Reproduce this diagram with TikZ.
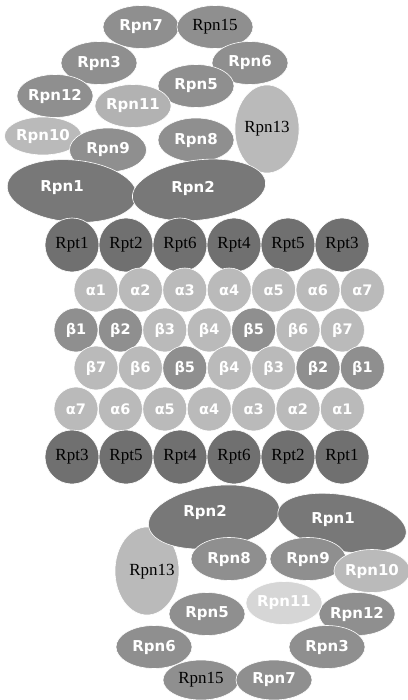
\documentclass[tikz,border=0pt]{standalone}
\usepackage{fontspec}
\setmainfont{Liberation Serif}
\setsansfont{DejaVu Sans}
\usetikzlibrary{shapes.geometric}

\definecolor{rptgray}{gray}{0.44}
\definecolor{basegray}{gray}{0.47}
\definecolor{midgray}{gray}{0.56}
\definecolor{palegray}{gray}{0.73}
\definecolor{faintgray}{gray}{0.84}

\tikzset{
    sub/.style={ellipse, inner sep=0pt, draw=white, line width=0.6pt,
        minimum width=76pt, minimum height=43pt, fill=midgray,
        text=white, font=\sffamily\bfseries\fontsize{15}{18}\selectfont},
    subserif/.style={sub, text=black, font=\rmfamily\fontsize{17}{20}\selectfont},
    lidtext/.style={inner sep=0pt, text=white, font=\sffamily\bfseries\fontsize{15}{18}\selectfont},
    ring/.style={circle, inner sep=0pt, draw=white, line width=0.6pt,
        minimum size=44pt, fill=palegray,
        text=white, font=\sffamily\bfseries\fontsize{14.5}{18}\selectfont},
    atpase/.style={circle, inner sep=0pt, draw=white, line width=0.6pt,
        minimum size=54pt, fill=rptgray,
        text=black, font=\rmfamily\fontsize{17}{20}\selectfont}
}

\begin{document}
\begin{tikzpicture}[x=1pt, y=-1pt]
    \useasboundingbox (0,0) rectangle (407,700);
    % upper lid
    \node [subserif, fill=palegray, minimum width=63pt, minimum height=88pt] (top13) at (267,129) {Rpn13};
    \node [sub] (top7) at (141,27) {Rpn7};
    \node [subserif] (top15) at (215,27) {Rpn15};
    \node [sub] (top6) at (250,63) {Rpn6};
    \node [sub] (top3) at (99,63) {Rpn3};
    \node [sub] (top12) at (55,96) {Rpn12};
    \node [sub] (top5) at (196,86) {Rpn5};
    \node [sub, fill=gray!60] (top11) at (133,106) {Rpn11};
    \node [sub, fill=palegray, minimum width=77pt, minimum height=38pt] (top10) at (43,136) {Rpn10};
    \node [sub, minimum width=77pt, minimum height=44pt] (top9) at (108,150) {Rpn9};
    \node [sub, minimum height=44pt] (top8) at (196,140) {Rpn8};
    \node [sub, fill=basegray, minimum width=130pt, minimum height=62pt, rotate=-5] (top1) at (72,191) {};
    \node [sub, fill=basegray, minimum width=134pt, minimum height=60pt, rotate=7] (top2) at (199,190) {};
    \node [lidtext] (toplab1) at (62,188) {Rpn1};
    \node [lidtext] (toplab2) at (193,188) {Rpn2};
    % core particle
    \foreach \lab [count=\i] in {1,2,6,4,5,3}
        \node [atpase] (rpttop\i) at ({72+54*(\i-1)},245) {Rpt\lab};
    \foreach \i in {1,...,7}
        \node [ring] (atop\i) at ({96+44.4*(\i-1)},290) {α\i};
    \foreach \lab/\col [count=\i] in {1/midgray,2/midgray,3/palegray,4/palegray,5/midgray,6/palegray,7/palegray}
        \node [ring, fill=\col] (btop\i) at ({76+44.4*(\i-1)},330) {β\lab};
    \foreach \lab/\col [count=\i] in {7/palegray,6/palegray,5/midgray,4/palegray,3/palegray,2/midgray,1/midgray}
        \node [ring, fill=\col] (bbot\i) at ({96+44.4*(\i-1)},368) {β\lab};
    \foreach \lab [count=\i] in {7,6,5,4,3,2,1}
        \node [ring] (abot\i) at ({76+44.4*(\i-1)},409) {α\lab};
    \foreach \lab [count=\i] in {3,5,4,6,2,1}
        \node [atpase] (rptbot\i) at ({72+54*(\i-1)},457) {Rpt\lab};
    % lower lid
    \node [subserif, fill=palegray, minimum width=64pt, minimum height=88pt] (bot13) at (147,571) {};
    \node [sub, fill=basegray, minimum width=132pt, minimum height=62pt, rotate=8] (bot2) at (214,517) {};
    \node [sub, fill=basegray, minimum width=130pt, minimum height=56pt, rotate=-10] (bot1) at (342,523) {};
    \node [lidtext] (botlab2) at (205,512) {Rpn2};
    \node [lidtext] (botlab1) at (333,520) {Rpn1};
    \node [inner sep=0pt, font=\rmfamily\fontsize{17}{20}\selectfont] (botlab13) at (152,572) {Rpn13};
    \node [sub] (bot8) at (229,559) {Rpn8};
    \node [sub] (bot9) at (308,559) {Rpn9};
    \node [sub, fill=palegray, minimum width=74pt] (bot10) at (372,571) {Rpn10};
    \node [sub] (bot12) at (357,614) {Rpn12};
    \node [sub, fill=faintgray] (bot11) at (284,603) {Rpn11};
    \node [sub] (bot5) at (207,614) {Rpn5};
    \node [sub] (bot3) at (327,647) {Rpn3};
    \node [sub] (bot6) at (154,647) {Rpn6};
    \node [subserif, minimum height=40pt] (bot15) at (201,680) {Rpn15};
    \node [sub, minimum height=40pt] (bot7) at (274,680) {Rpn7};
\end{tikzpicture}
\end{document}
